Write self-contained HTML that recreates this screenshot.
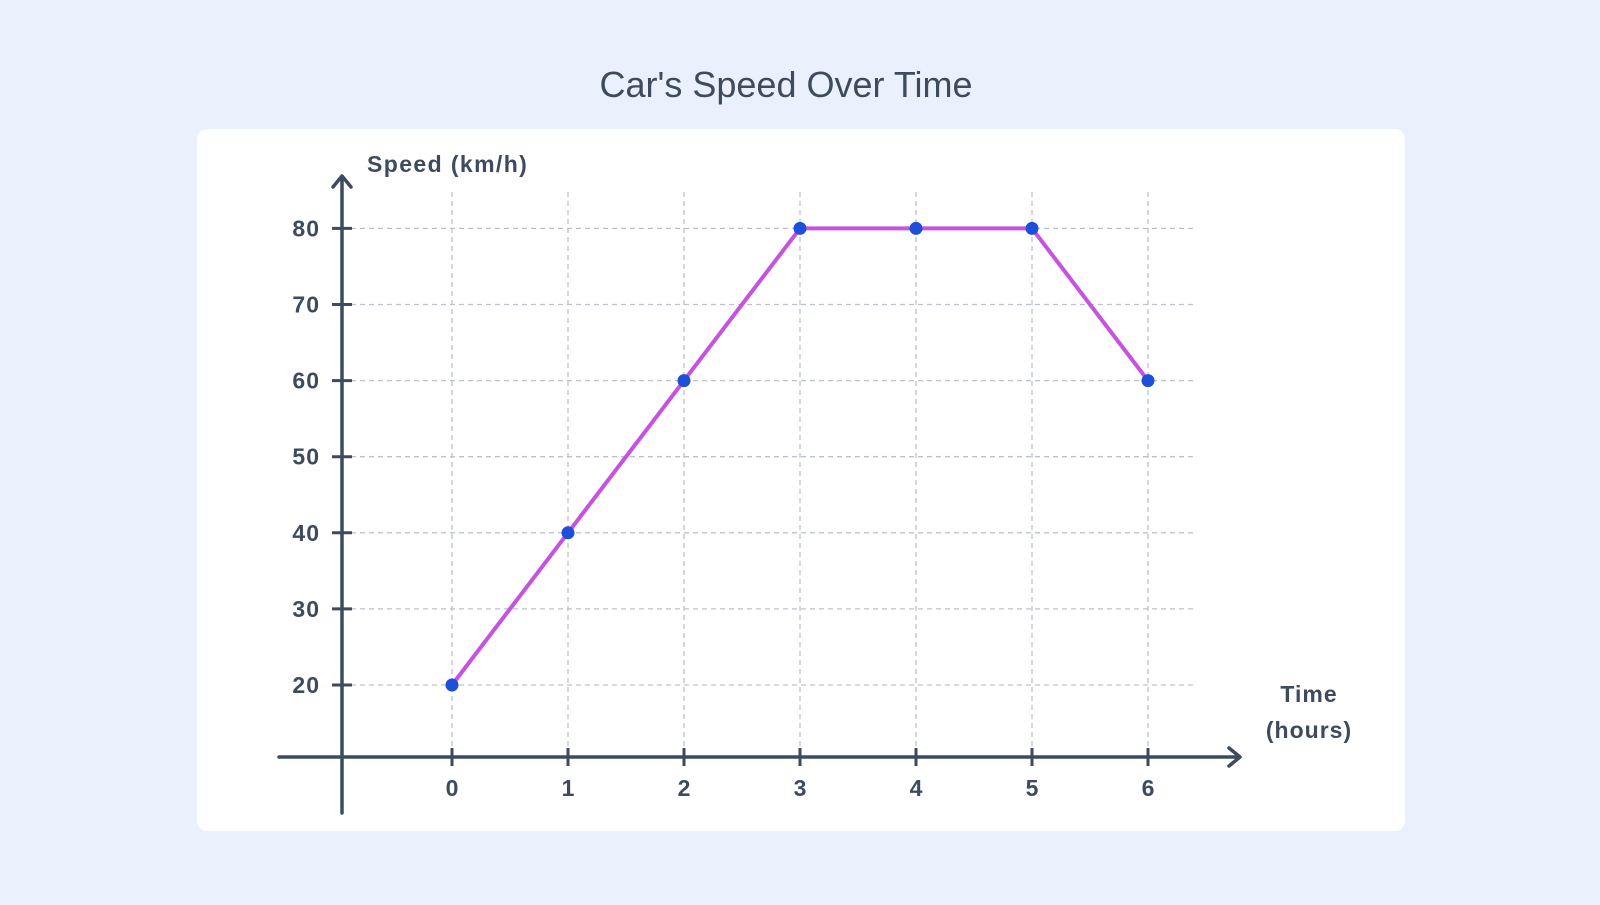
<!DOCTYPE html>
<html><head><meta charset="utf-8"><style>
body{margin:0;width:1600px;height:900px;background:#ebf1fc;font-family:"Liberation Sans",sans-serif;overflow:hidden}
</style></head><body>
<svg width="1600" height="900">
<rect x="197" y="129" width="1208" height="702" rx="10" fill="#fff"/>
<text x="786" y="97" text-anchor="middle" font-size="36" fill="#3e4a5e">Car's Speed Over Time</text>
<g id="grid"></g>
<g id="axes"></g>
<g id="marks"></g>
</svg>
<script>
const categories=[0,1,2,3,4,5,6];
const speeds=[20,40,60,80,80,80,60];
const yTicks=[20,30,40,50,60,70,80];
const X=v=>452+v*116;
const Y=v=>685-(v-20)*7.61;
const NS="http://www.w3.org/2000/svg";
function mk(p,t,a){const e=document.createElementNS(NS,t);for(const k in a)e.setAttribute(k,a[k]);document.getElementById(p).appendChild(e);return e;}
const AX="#3e4a5e";
categories.forEach(c=>{
 const l=mk('grid','line',{x1:X(c),x2:X(c),y1:192,y2:757,stroke:"#bcc2cd","stroke-width":1.3,"stroke-dasharray":"5,4"});
 
 
});
yTicks.forEach(v=>{
 const l=mk('grid','line',{x1:342,x2:1194,y1:Y(v),y2:Y(v),stroke:"#bcc2cd","stroke-width":1.3,"stroke-dasharray":"5,4"});
 
 
 const t=mk('axes','line',{x1:332,x2:352,y1:Y(v),y2:Y(v),stroke:AX,"stroke-width":3});
 
 
 const tx=mk('axes','text',{x:320,y:Y(v)+8,"text-anchor":"end","font-size":23,"font-weight":"bold",fill:AX,"letter-spacing":1});
 tx.textContent=v;
 
 
});
categories.forEach(c=>{
 const t=mk('axes','line',{x1:X(c),x2:X(c),y1:748,y2:766,stroke:AX,"stroke-width":3});
 
 
 const tx=mk('axes','text',{x:X(c),y:796,"text-anchor":"middle","font-size":23,"font-weight":"bold",fill:AX});
 tx.textContent=c;
 
 
});
const ya=mk('axes','path',{d:"M342 813V177M333 187L342 176L351 187",stroke:AX,"stroke-width":3.5,fill:"none","stroke-linecap":"round","stroke-linejoin":"round"});


const xa=mk('axes','path',{d:"M279 757H1239M1229 748L1240 757L1229 766",stroke:AX,"stroke-width":3.5,fill:"none","stroke-linecap":"round","stroke-linejoin":"round"});


const yt=mk('axes','text',{x:367,y:172,"font-size":23,"font-weight":"bold",fill:AX,"letter-spacing":1.4});
yt.textContent="Speed (km/h)";


const xt1=mk('axes','text',{x:1309,y:702,"text-anchor":"middle","font-size":23,"font-weight":"bold",fill:AX,"letter-spacing":1});
xt1.textContent="Time";


const xt2=mk('axes','text',{x:1309,y:738,"text-anchor":"middle","font-size":23,"font-weight":"bold",fill:AX,"letter-spacing":1});
xt2.textContent="(hours)";


const pl=mk('marks','polyline',{points:categories.map((c,i)=>X(c)+","+Y(speeds[i])).join(" "),fill:"none",stroke:"#c653e0","stroke-width":4,"stroke-linejoin":"round"});


categories.forEach((c,i)=>{
 const p=mk('marks','circle',{cx:X(c),cy:Y(speeds[i]),r:6.5,fill:"#1d4fd8"});
 
 
});
</script>
</body></html>
